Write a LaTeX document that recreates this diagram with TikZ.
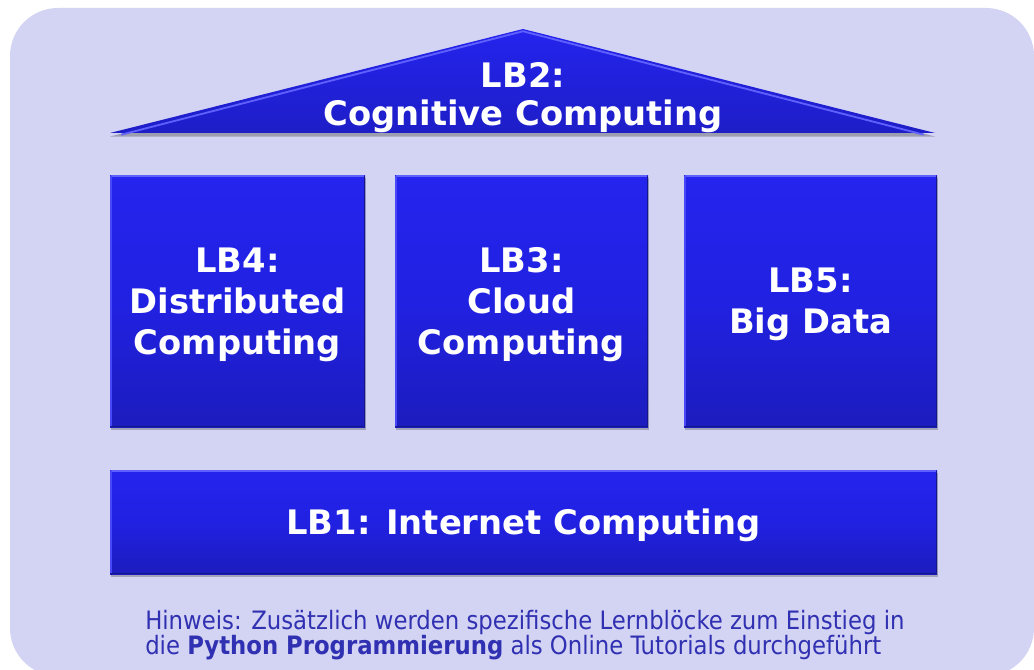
\documentclass[tikz,border=0pt]{standalone}
\usepackage{fontspec}
\setmainfont{DejaVu Sans}
\newfontfamily\notefont{DejaVu Sans Condensed}
\usetikzlibrary{shadows,fit}
\definecolor{bgc}{RGB}{211,211,243}
\definecolor{btop}{RGB}{36,36,238}
\definecolor{bmid}{RGB}{33,33,226}
\definecolor{bbot}{RGB}{28,28,190}
\definecolor{hil}{RGB}{96,96,255}
\definecolor{dkedge}{RGB}{22,22,140}
\definecolor{notec}{RGB}{48,48,178}
\tikzset{
  lbbox/.style={inner sep=0pt, top color=btop, bottom color=bbot, middle color=bmid,
    drop shadow={shadow xshift=0.6pt, shadow yshift=-2.2pt, opacity=0.35, fill=black!70}},
  boxtext/.style={text=white, font=\bfseries\fontsize{24}{29}\selectfont, align=center, inner sep=0pt, yshift=-2.6pt},
  rooftext/.style={text=white, font=\bfseries\fontsize{24}{27}\selectfont, align=center, inner sep=0pt},
  hiedge/.style={draw=hil, line width=1.6pt},
  dkline/.style={draw=dkedge, line width=1.2pt},
  notetext/.style={text=notec, font=\notefont\fontsize{18}{17.8}\selectfont, align=left, anchor=north west, inner sep=0pt}
}
\newcommand\bevelbox[1]{%
  \draw[hiedge] ([xshift=0.8pt,yshift=-0.8pt]#1.north west) -- ([xshift=-0.8pt,yshift=-0.8pt]#1.north east);
  \draw[hiedge, draw=hil!60!btop] ([xshift=0.8pt,yshift=-0.8pt]#1.north west) -- ([xshift=0.8pt,yshift=0.8pt]#1.south west);
  \draw[dkline] ([xshift=-0.6pt,yshift=-0.8pt]#1.north east) -- ([xshift=-0.6pt,yshift=0.6pt]#1.south east) -- ([xshift=0.8pt,yshift=0.6pt]#1.south west);
}
\begin{document}
\begin{tikzpicture}[x=0.025cm, y=-0.025cm]
\useasboundingbox (0,0) rectangle (1034,670);
\fill[white] (0,0) rectangle (1034,670);
\fill[bgc, rounded corners=1.2cm] (10,8) rectangle (1034,676);

% roof
\coordinate (rl) at (110,133);
\coordinate (ra) at (523,29);
\coordinate (rr) at (935,133);
\path[top color=btop, bottom color=bbot!80!btop,
  drop shadow={shadow xshift=0pt, shadow yshift=-2.5pt, opacity=0.4, fill=black!70}]
  (rl) -- (ra) -- (rr) -- cycle;
\draw[hiedge, line width=1.3pt] ([xshift=8pt,yshift=-1.2pt]rl) -- ([yshift=-1.6pt]ra) -- ([xshift=-8pt,yshift=-1.2pt]rr);
\node[rooftext] (lb2) at (523,98) {LB2:\\Cognitive Computing};

% pillars
\node[lbbox, fit={(110,175) (365,427)}] (lb4) {};
\node[lbbox, fit={(395,175) (648,427)}] (lb3) {};
\node[lbbox, fit={(684,175) (937,427)}] (lb5) {};
\node[lbbox, fit={(110,470) (937,574)}] (lb1) {};
\bevelbox{lb4}
\bevelbox{lb3}
\bevelbox{lb5}
\bevelbox{lb1}
\node[boxtext] (t4) at (lb4.center) {LB4:\\Distributed\\Computing};
\node[boxtext] (t3) at (lb3.center) {LB3:\\Cloud\\Computing};
\node[boxtext] (t5) at (lb5.center) {LB5:\\Big Data};
\node[boxtext] (t1) at (lb1.center) {LB1: Internet Computing};

% note
\node[notetext] (note) at (145,610) {Hinweis: Zusätzlich werden spezifische Lernblöcke zum Einstieg in\\die \textbf{Python Programmierung} als Online Tutorials durchgeführt};
\end{tikzpicture}
\end{document}
